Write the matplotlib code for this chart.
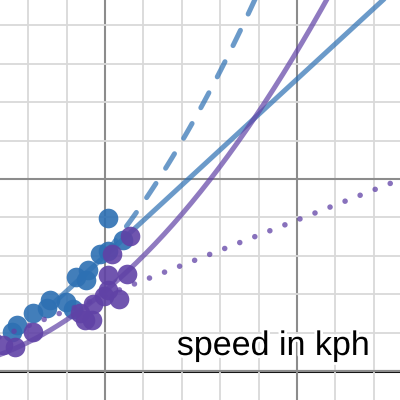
import numpy as np
import matplotlib.pyplot as plt
import matplotlib.patheffects as pe

# blue data
blue_x = [2.58, 2.71, 3.13, 3.49, 3.57, 3.98, 4.17, 4.25, 4.51, 4.56, 4.87, 5.08, 5.08, 5.47]
blue_y = [1.02, 1.20, 1.51, 1.64, 1.85, 1.80, 1.61, 2.45, 2.37, 2.63, 3.05, 3.13, 3.98, 3.41]
# purple data
purple_x = [2.34, 2.66, 3.13, 4.35, 4.48, 4.66, 4.69, 5.08, 4.97, 5.36, 5.08, 5.57, 5.18, 5.65]
purple_y = [0.68, 0.63, 1.02, 1.51, 1.33, 1.33, 1.74, 2.11, 1.95, 1.88, 2.50, 2.53, 3.05, 3.52]

# curve coefficients
blue_slope, blue_icpt = 0.92, -1.6
blue_quad = 0.122
purple_quad = 0.0833
purple_lin = 0.393

BLUE = '#2d70b3'
PURPLE = '#6042a6'

fig = plt.figure(figsize=(4, 4), dpi=100)
ax = fig.add_axes([0, 0, 1, 1])

# grid
ax.set_xticks(np.arange(0, 15, 5))
ax.set_yticks(np.arange(0, 15, 5))
ax.set_xticks(np.arange(0, 15, 1), minor=True)
ax.set_yticks(np.arange(0, 15, 1), minor=True)
ax.grid(which='minor', color='#d9d9d9', lw=1.3, zorder=0)
ax.grid(which='major', color='#8c8c8c', lw=1.5, zorder=0)
ax.tick_params(which='both', length=0, labelbottom=False, labelleft=False)
for s in ax.spines.values():
    s.set_visible(False)
ax.axhline(0, color='#111111', lw=2.2, zorder=1)

# blue points + curves
ax.scatter(blue_x, blue_y, s=200, color=BLUE, alpha=0.9, lw=0, zorder=2)
xs = np.linspace(3.7, 13, 100)
ax.plot(xs, blue_slope * xs + blue_icpt, color=BLUE, alpha=0.7, lw=3.6,
        solid_capstyle='round', zorder=3)
xs = np.linspace(5.0, 9.5, 100)
ax.plot(xs, blue_quad * xs ** 2, color=BLUE, alpha=0.7, lw=3.6,
        dashes=(3.4, 3.6), dash_capstyle='round', zorder=3)

# purple points + curves
ax.scatter(purple_x, purple_y, s=200, color=PURPLE, alpha=0.9, lw=0, zorder=4)
xs = np.linspace(2.0, 11.5, 200)
ax.plot(xs, purple_quad * xs ** 2, color=PURPLE, alpha=0.7, lw=3.6,
        solid_capstyle='round', zorder=5)
xs = np.linspace(2.0, 13, 100)
ax.plot(xs, purple_lin * xs, color=PURPLE, alpha=0.75, lw=4.0,
        dashes=(0.01, 2.9), dash_capstyle='round', zorder=5)

ax.text(11.9, 0.417, 'speed in kph', ha='right', va='baseline',
        fontsize=24.5, family='Liberation Sans', color='black', zorder=6,
        path_effects=[pe.withStroke(linewidth=4, foreground='white')])

ax.set_xlim(2.266, 12.683)
ax.set_ylim(-0.755, 9.661)

fig.savefig('out.png', dpi=100)
